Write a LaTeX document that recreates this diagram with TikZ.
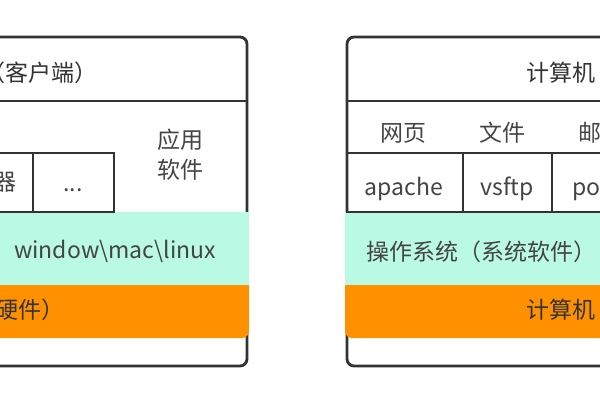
\documentclass[tikz,border=0pt]{standalone}
\usepackage{fontspec}
\setmainfont{Noto Sans CJK SC}
\usepackage{tikz}
\definecolor{linegray}{HTML}{333333}
\definecolor{textgray}{HTML}{444444}
\definecolor{mint}{HTML}{BAFAE4}
\definecolor{hworange}{HTML}{FF9100}
\tikzset{
  frame/.style={draw=linegray, line width=2.8pt},
  cell/.style={draw=linegray, line width=2.4pt},
  lbl/.style={text=textgray, inner sep=0pt, anchor=base, font=\fontsize{23}{30}\selectfont},
}

\begin{document}
\begin{tikzpicture}[x=1pt,y=-1pt]
\useasboundingbox (0,0) rectangle (600,400);
\clip (0,0) rectangle (600,400);
% client side
\draw[frame, rounded corners=7pt] (-40,37) rectangle (247,366);
\draw[frame] (-40,101)--(247,101);
\fill[hworange, rounded corners=7pt] (-40,279) rectangle (249,338);
\fill[mint] (-40,212) rectangle (249,285);
\draw[cell] (-60,153) rectangle (33,212);
\draw[cell] (33,153) rectangle (114,212);
\path
(98,81) node[lbl, anchor=base east, text=linegray] (clienttitle) {计算机（客户端）};
\path
(180,155) node[lbl, anchor=center, align=center] (appsw) {应用\\软件};
\path
(17,190) node[lbl, anchor=base east] (browser) {浏览器};
\path
(73,191) node[lbl] (more) {...};
\path
(115,258) node[lbl] (clientos) {window\textbackslash mac\textbackslash linux};
\path
(65,318) node[lbl, anchor=base east, text=linegray] (clienthw) {计算机（硬件）};
% server side
\draw[frame, rounded corners=7pt] (347,37) rectangle (660,366);
\draw[frame] (347,101)--(660,101);
\fill[hworange, rounded corners=7pt] (345,279) rectangle (660,338);
\fill[mint] (345,212) rectangle (660,285);
\draw[cell] (347,153) rectangle (463,212);
\draw[cell] (463,153) rectangle (552,212);
\draw[cell] (552,153) rectangle (680,212);
\path
(526,81) node[lbl, anchor=base west, text=linegray] (servertitle) {计算机（服务器）};
\path
(403,141) node[lbl] (web) {网页};
\path
(502,141) node[lbl] (file) {文件};
\path
(578,141) node[lbl, anchor=base west] (mail) {邮件};
\path
(404,195) node[lbl] (apache) {apache};
\path
(507,195) node[lbl] (vsftp) {vsftp};
\path
(572,195) node[lbl, anchor=base west] (postfix) {postfix};
\path
(366,260) node[lbl, anchor=base west] (serveros) {操作系统（系统软件）};
\path
(526,318) node[lbl, anchor=base west, text=linegray] (serverhw) {计算机（硬件）};
\end{tikzpicture}
\end{document}
